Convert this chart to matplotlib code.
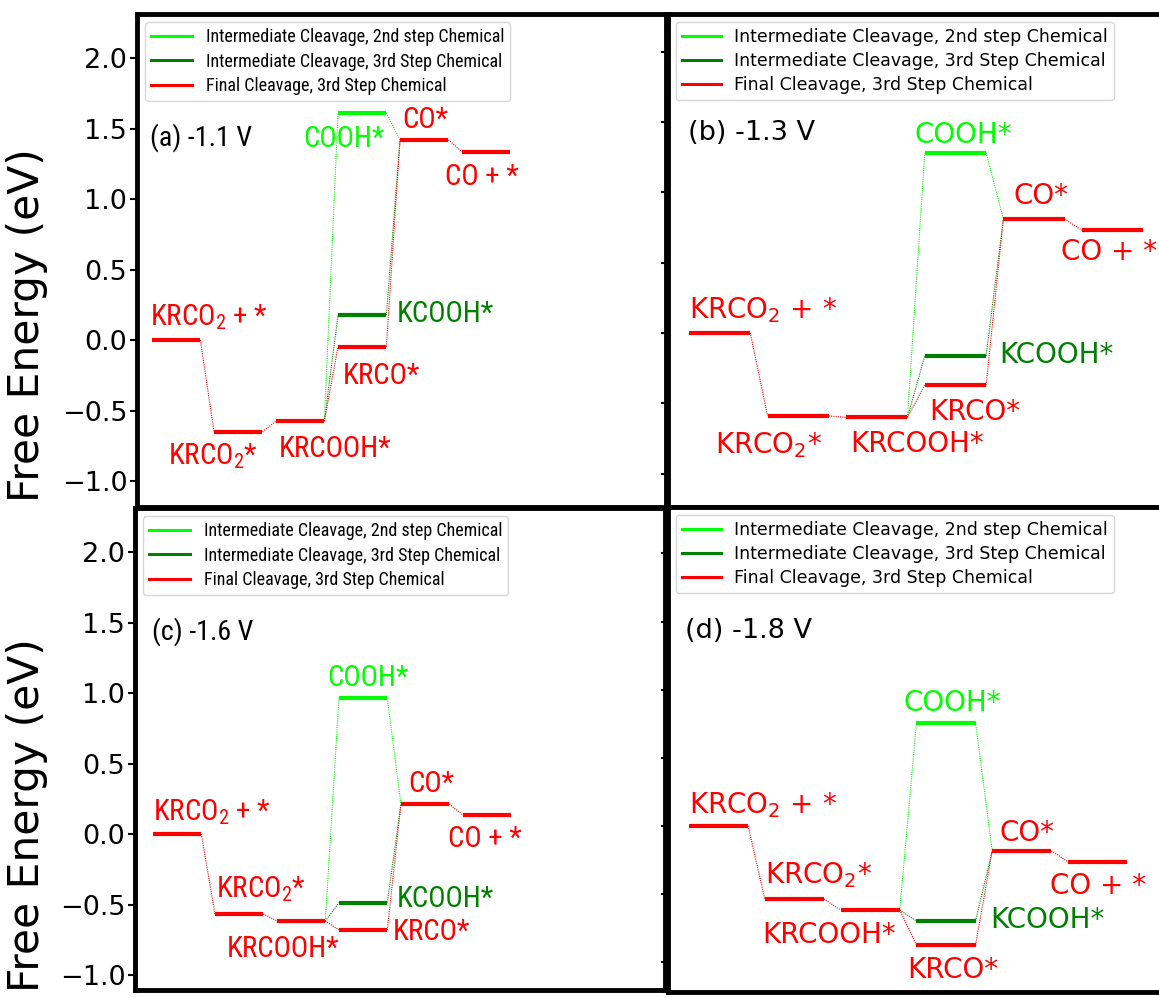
import matplotlib
matplotlib.use("Agg")
import matplotlib.pyplot as plt
from matplotlib.lines import Line2D
from matplotlib import font_manager
from matplotlib.font_manager import FontProperties

plt.rcParams["font.family"] = ["DejaVu Sans"]
plt.rcParams["mathtext.default"] = "regular"

# panel tags and applied potential
tags = ["(a)", "(b)", "(c)", "(d)"]
potentials = ["-1.1 V", "-1.3 V", "-1.6 V", "-1.8 V"]

# states of the diagram and the column each one sits in
names = ["KRCO$_2$ + *", "KRCO$_2$*", "KRCOOH*", "COOH*", "KCOOH*",
         "KRCO*", "CO*", "CO + *"]
columns = [0, 1, 2, 3, 3, 3, 4, 5]

# free energies (eV), same order as names
g_a = [0.00, -0.65, -0.575, 1.61, 0.177, -0.047, 1.42, 1.335]
g_b = [0.00, -0.59, -0.60, 1.28, -0.163, -0.37, 0.81, 0.73]
g_c = [0.00, -0.567, -0.617, 0.962, -0.487, -0.68, 0.213, 0.135]
g_d = [0.00, -0.536, -0.617, 0.758, -0.697, -0.873, -0.183, -0.262]

# pathways (indices into names)
path_2nd = [2, 3, 6]
path_3rd = [2, 4, 6]
path_final = [0, 1, 2, 5, 6, 7]
path_labels = ["Intermediate Cleavage, 2nd step Chemical",
               "Intermediate Cleavage, 3rd Step Chemical",
               "Final Cleavage, 3rd Step Chemical"]

# ---- styling / layout ----
LIME, DKGREEN, RED = "#00ff00", "#008000", "#ff0000"
path_colors = [LIME, DKGREEN, RED]
state_colors = [RED, RED, RED, LIME, DKGREEN, RED, RED, RED]
W, H = 1159, 998
w = 0.78  # level width


def find_narrow():
    # panels (a) and (c) are horizontally squeezed in the original, so use a
    # condensed sans face if one is installed
    good = []
    for f in font_manager.fontManager.ttflist:
        n = f.name.lower()
        if "mono" in n or "serif" in n or f.style != "normal":
            continue
        if f.weight not in (400, "normal", "regular"):
            continue
        if "condensed" in n or "narrow" in n or f.stretch in ("condensed", "semi-condensed"):
            good.append(f)
    pref = ["liberation sans narrow", "dejavu sans condensed", "noto sans", "open sans",
            "roboto", "lato"]
    for p in pref:
        for f in good:
            if f.name.lower().startswith(p) and "semi" not in f.fname.lower() \
                    and "extra" not in f.fname.lower():
                return f.fname
    return good[0].fname if good else None


narrow_file = find_narrow()


def fprops(k, size):
    if k % 2 == 0 and narrow_file:
        return FontProperties(fname=narrow_file, size=size * 1.04)
    return FontProperties(family="DejaVu Sans", size=size)


# panel frames in pixels: left, right, top, bottom
frames = [(137, 666, 14, 507), (668, 1159, 14, 507),
          (135, 665, 508, 990), (668, 1159, 507, 992)]
xlims = [(-0.242, 8.29), (-0.267, 5.98), (-0.29, 8.26), (-0.277, 6.20)]
ylims = [(-1.184, 2.312), (-1.237, 2.267), (-1.106, 2.312), (-1.218, 2.340)]
tag_pos = [(0.025, 0.734), (0.04, 0.744), (0.032, 0.726), (0.035, 0.73)]

# label offsets from the left end of each level, in pixels (x right, y up)
offsets = [
    [(-2, 15), (-46, -33), (3, -36), (-35, -34), (59, -7), (5, -37), (2, 12), (-17, -33)],
    [(0, 15), (-53, -37), (4, -35), (-10, 10), (74, -7), (4, -35), (10, 15), (-21, -30)],
    [(0, 14), (1, 17), (-50, -36), (-12, 12), (58, -4), (54, -10), (7, 12), (-15, -32)],
    [(0, 13), (0, 16), (-78, -33), (-13, 12), (74, -7), (-9, -33), (7, 10), (-18, -32)],
]

energies = [g_a, g_b, g_c, g_d]
paths = [path_2nd, path_3rd, path_final]

fig = plt.figure(figsize=(W / 100, H / 100), dpi=100)

for k in range(4):
    l, r, t, b = frames[k]
    ax = fig.add_axes([l / W, 1 - b / H, (r - l) / W, (b - t) / H])
    g = energies[k]

    # dotted connectors
    for path, col in zip(paths, path_colors):
        for i, j in zip(path[:-1], path[1:]):
            ax.plot([columns[i] + w, columns[j]], [g[i], g[j]], color=col,
                    lw=0.8, ls=(0, (1, 1)), zorder=1)

    # energy levels and their labels
    for i in range(len(names)):
        ax.plot([columns[i], columns[i] + w], [g[i], g[i]],
                color=state_colors[i], lw=3, solid_capstyle="butt", zorder=2)
        dx, dy = offsets[k][i]
        ax.annotate(names[i], (columns[i], g[i]), xytext=(dx * 0.72, dy * 0.72),
                    textcoords="offset points", ha="left", va="baseline",
                    color=state_colors[i], fontproperties=fprops(k, 20))

    ax.text(tag_pos[k][0], tag_pos[k][1], f"{tags[k]} {potentials[k]}",
            transform=ax.transAxes, fontproperties=fprops(k, 19.5), va="baseline")

    handles = [Line2D([], [], color=c, lw=2.2) for c in path_colors]
    ax.legend(handles, path_labels, loc="upper left", prop=fprops(k, 12.5),
              handlelength=2.25, handletextpad=0.75, labelspacing=0.35,
              borderpad=0.35, borderaxespad=0.45)

    ax.set_xlim(*xlims[k])
    ax.set_ylim(*ylims[k])
    ax.set_xticks([])
    ax.set_yticks([-1.0, -0.5, 0.0, 0.5, 1.0, 1.5, 2.0])
    ax.tick_params(axis="y", direction="out", length=5, width=1.5,
                   labelsize=19.5, pad=2, labelleft=(k % 2 == 0))
    for s in ax.spines.values():
        s.set_linewidth(3.5)
    if k % 2 == 1:
        ax.spines["right"].set_visible(False)

fig.text(27 / W, 1 - 325 / H, "Free Energy (eV)", rotation=90,
         ha="center", va="center", fontsize=30.5)
fig.text(27 / W, 1 - 815 / H, "Free Energy (eV)", rotation=90,
         ha="center", va="center", fontsize=30.5)

fig.savefig("out.png", dpi=100)
